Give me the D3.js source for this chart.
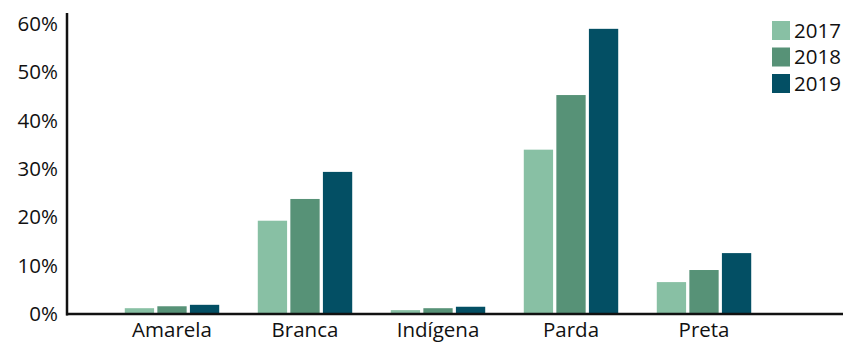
<!DOCTYPE html>
<html>
<head>
<meta charset="utf-8">
<script src="https://cdn.jsdelivr.net/npm/d3@7/dist/d3.min.js"></script>
<style>
  html, body { margin: 0; padding: 0; background: #fff; }
  svg { display: block; }
  text { font-family: "Open Sans", "Noto Sans", sans-serif; fill: #111; }
</style>
</head>
<body>
<svg id="chart" width="843" height="343"></svg>
<script>
// Share of cases by race/colour, per year
const categories = ["Amarela", "Branca", "Indígena", "Parda", "Preta"];
const years = ["2017", "2018", "2019"];
const values2017 = [1.2, 19.3, 0.8, 34.0, 6.6];
const values2018 = [1.6, 23.8, 1.2, 45.3, 9.1];
const values2019 = [1.9, 29.4, 1.5, 59.0, 12.6];
const yTicks = [0, 10, 20, 30, 40, 50, 60];
const colors = ["#88c0a4", "#579277", "#034f64"];

const seriesValues = [values2017, values2018, values2019];

const svg = d3.select("#chart");
const W = 843, H = 343;
const x0Left = 67, baseY = 314;
const fontSize = "20.5px";

const y = d3.scaleLinear().domain([0, 60]).range([baseY, 24]);

const x = d3.scaleBand()
  .domain(categories)
  .range([105.5, 770.5])
  .paddingInner(0.29)
  .paddingOuter(0.145);

const xs = d3.scaleBand()
  .domain(years)
  .range([0, x.bandwidth()])
  .paddingInner(0.1);

// Bars
const groups = svg.append("g")
  .selectAll("g")
  .data(categories)
  .join("g")
  .attr("transform", d => `translate(${x(d)},0)`);

groups.selectAll("rect")
  .data((c, i) => years.map((yr, k) => ({ yr, k, v: seriesValues[k][i] })))
  .join("rect")
  .attr("x", d => xs(d.yr))
  .attr("width", xs.bandwidth())
  .attr("y", d => y(d.v))
  .attr("height", d => baseY - y(d.v))
  .attr("fill", d => colors[d.k]);

// Y axis
const yAxis = d3.axisLeft(y)
  .tickValues(yTicks)
  .tickSize(0)
  .tickPadding(9)
  .tickFormat(d => d + "%");

const gy = svg.append("g")
  .attr("transform", `translate(${x0Left},0)`)
  .call(yAxis);
gy.select(".domain").remove();
gy.selectAll("text")
  .style("font-size", fontSize)
  .style("font-family", "'Open Sans', 'Noto Sans', sans-serif")
  .attr("fill", "#111");

svg.append("line")
  .attr("x1", x0Left).attr("x2", x0Left)
  .attr("y1", 13).attr("y2", baseY + 1.5)
  .attr("stroke", "#111").attr("stroke-width", 2.5);

// X axis
const xAxis = d3.axisBottom(x).tickSize(0).tickPadding(8);
const gx = svg.append("g")
  .attr("transform", `translate(0,${baseY})`)
  .call(xAxis);
gx.select(".domain").remove();
gx.selectAll("text")
  .style("font-size", fontSize)
  .style("font-family", "'Open Sans', 'Noto Sans', sans-serif")
  .attr("fill", "#111");

svg.append("line")
  .attr("x1", x0Left - 1).attr("x2", W)
  .attr("y1", baseY).attr("y2", baseY)
  .attr("stroke", "#111").attr("stroke-width", 2.5);

// Legend
const legend = svg.append("g")
  .attr("transform", "translate(772,21)")
  .selectAll("g")
  .data(years)
  .join("g")
  .attr("transform", (d, i) => `translate(0,${i * 26.5})`);

legend.append("rect")
  .attr("width", 18).attr("height", 19)
  .attr("fill", (d, i) => colors[i]);

legend.append("text")
  .attr("x", 22).attr("y", 9.5)
  .attr("dy", "0.35em")
  .style("font-size", fontSize)
  .text(d => d);
</script>
</body>
</html>
